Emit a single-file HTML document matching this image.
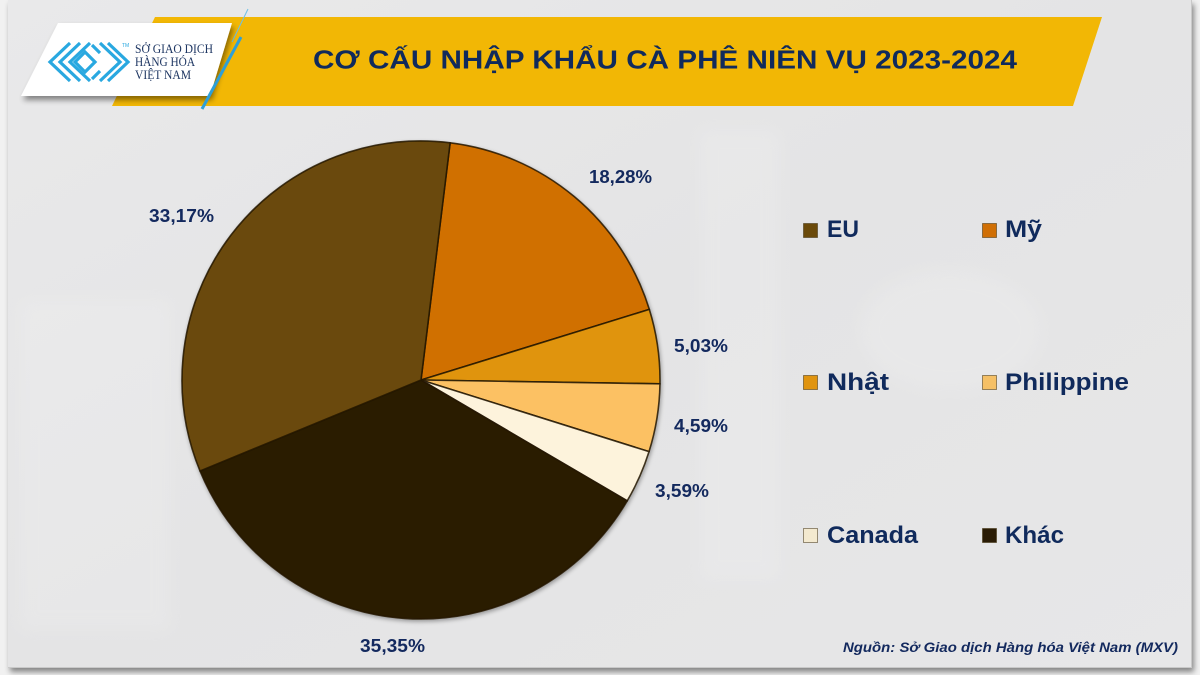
<!DOCTYPE html>
<html><head><meta charset="utf-8">
<style>
html,body{margin:0;padding:0;background:#f1f1f1;}
svg{display:block;}
</style></head>
<body>
<svg width="1200" height="675" viewBox="0 0 1200 675" xmlns="http://www.w3.org/2000/svg">
<defs>
<filter id="sh" x="-10%" y="-10%" width="130%" height="140%">
<feGaussianBlur in="SourceAlpha" stdDeviation="3"/>
<feOffset dx="2" dy="4" result="o"/>
<feComponentTransfer><feFuncA type="linear" slope="0.45"/></feComponentTransfer>
<feMerge><feMergeNode/><feMergeNode in="SourceGraphic"/></feMerge>
</filter>
<filter id="psh" x="-5%" y="-5%" width="110%" height="110%">
<feGaussianBlur in="SourceAlpha" stdDeviation="2"/>
<feOffset dx="1" dy="2"/>
<feComponentTransfer><feFuncA type="linear" slope="0.35"/></feComponentTransfer>
<feMerge><feMergeNode/><feMergeNode in="SourceGraphic"/></feMerge>
</filter>
<filter id="blur"><feGaussianBlur stdDeviation="8"/></filter>
<linearGradient id="bg" x1="0" y1="0" x2="1" y2="1">
<stop offset="0" stop-color="#e9e9ea"/>
<stop offset="0.5" stop-color="#e4e4e5"/>
<stop offset="1" stop-color="#e7e7e8"/>
</linearGradient>
</defs>

<!-- panel -->
<rect x="8" y="0" width="1184" height="668" fill="#c9c9c9" filter="url(#sh)"/>
<rect x="8" y="0" width="1183" height="667" fill="url(#bg)"/>
<!-- faint background shapes -->
<g fill="#ffffff" opacity="0.12" filter="url(#blur)">
<rect x="20" y="300" width="150" height="330"/>
<rect x="700" y="130" width="80" height="450"/>
<ellipse cx="950" cy="330" rx="90" ry="60"/>
</g>

<!-- yellow banner -->
<polygon points="155,17 1102,17 1073,106 112,106" fill="#f2b705"/>
<!-- thin line + blue line -->
<line x1="248" y1="9" x2="232" y2="42" stroke="#6fbfe6" stroke-width="1"/>
<!-- white logo box -->
<polygon points="58,23 232,23 210,96 21,96" fill="#ffffff" filter="url(#sh)"/>
<line x1="241" y1="37" x2="202" y2="109" stroke="#2e9fd8" stroke-width="3"/>

<!-- logo icon -->
<g fill="none" stroke="#29a8e0" stroke-width="3.2" stroke-linejoin="miter">
<polyline points="70,43 50,62 70,81"/>
<polyline points="80,43 60,62 80,81"/>
<polyline points="90,43 70,62 90,81"/>
<polyline points="100,43 120,62 100,81"/>
<polyline points="108,43 128,62 108,81"/>
<polygon points="85,52 95,62 85,72 75,62"/>
<polyline points="92,45 100,53"/>
<polyline points="92,79 100,71"/>
</g>
<text x="122" y="47" font-family="Liberation Sans, sans-serif" font-size="5" fill="#29a8e0">TM</text>
<g font-family="Liberation Serif, serif" font-size="12.5" fill="#1f3763">
<text x="135" y="53" textLength="78" lengthAdjust="spacingAndGlyphs">SỞ GIAO DỊCH</text>
<text x="135" y="66" textLength="60" lengthAdjust="spacingAndGlyphs">HÀNG HÓA</text>
<text x="135" y="79" textLength="56" lengthAdjust="spacingAndGlyphs">VIỆT NAM</text>
</g>

<!-- title -->
<text x="313" y="68.5" font-family="Liberation Sans, sans-serif" font-weight="bold" font-size="26" fill="#102a5c" textLength="704" lengthAdjust="spacingAndGlyphs">CƠ CẤU NHẬP KHẨU CÀ PHÊ NIÊN VỤ 2023-2024</text>

<!-- pie -->
<g filter="url(#psh)" stroke="#241804" stroke-opacity="0.85" stroke-width="1.6" stroke-linejoin="round">
<path d="M421,380 L450.13,142.78 A239,239 0 0 1 649.33,309.38 Z" fill="#d06f05"/>
<path d="M421,380 L649.33,309.38 A239,239 0 0 1 659.97,383.84 Z" fill="#e0940f"/>
<path d="M421,380 L659.97,383.84 A239,239 0 0 1 649.02,451.63 Z" fill="#fcc163"/>
<path d="M421,380 L649.02,451.63 A239,239 0 0 1 627.21,500.82 Z" fill="#fdf3dc"/>
<path d="M421,380 L627.21,500.82 A239,239 0 0 1 200.01,471.0 Z" fill="#2a1c05"/>
<path d="M421,380 L200.01,471.0 A239,239 0 0 1 450.13,142.78 Z" fill="#6b4a0a"/>
</g>

<!-- data labels -->
<g font-family="Liberation Sans, sans-serif" font-weight="bold" font-size="18" fill="#13295e">
<text x="589" y="183" textLength="63" lengthAdjust="spacingAndGlyphs">18,28%</text>
<text x="149" y="222" textLength="65" lengthAdjust="spacingAndGlyphs">33,17%</text>
<text x="674" y="352" textLength="54" lengthAdjust="spacingAndGlyphs">5,03%</text>
<text x="674" y="432" textLength="54" lengthAdjust="spacingAndGlyphs">4,59%</text>
<text x="655" y="497" textLength="54" lengthAdjust="spacingAndGlyphs">3,59%</text>
<text x="360" y="652" textLength="65" lengthAdjust="spacingAndGlyphs">35,35%</text>
</g>

<!-- legend -->
<g stroke="#3a2a08" stroke-opacity="0.5" stroke-width="1">
<rect x="803.5" y="223.5" width="14" height="14" fill="#6b4a0a"/>
<rect x="982.5" y="223.5" width="14" height="14" fill="#d06f05"/>
<rect x="803.5" y="375.5" width="14" height="14" fill="#e0940f"/>
<rect x="982.5" y="375.5" width="14" height="14" fill="#f5c066"/>
<rect x="803.5" y="528.5" width="14" height="14" fill="#f3e9cf"/>
<rect x="982.5" y="528.5" width="14" height="14" fill="#2a1c05"/>
</g>
<g font-family="Liberation Sans, sans-serif" font-weight="bold" font-size="24" fill="#102a5c">
<text x="827" y="237" textLength="32" lengthAdjust="spacingAndGlyphs">EU</text>
<text x="1005" y="237" textLength="37" lengthAdjust="spacingAndGlyphs">Mỹ</text>
<text x="827" y="390" textLength="62" lengthAdjust="spacingAndGlyphs">Nhật</text>
<text x="1005" y="390" textLength="124" lengthAdjust="spacingAndGlyphs">Philippine</text>
<text x="827" y="543" textLength="91" lengthAdjust="spacingAndGlyphs">Canada</text>
<text x="1005" y="543" textLength="59" lengthAdjust="spacingAndGlyphs">Khác</text>
</g>

<!-- source -->
<text x="843" y="652" font-family="Liberation Sans, sans-serif" font-weight="bold" font-style="italic" font-size="14" fill="#13295e" textLength="335" lengthAdjust="spacingAndGlyphs">Nguồn: Sở Giao dịch Hàng hóa Việt Nam (MXV)</text>
</svg>
</body></html>
